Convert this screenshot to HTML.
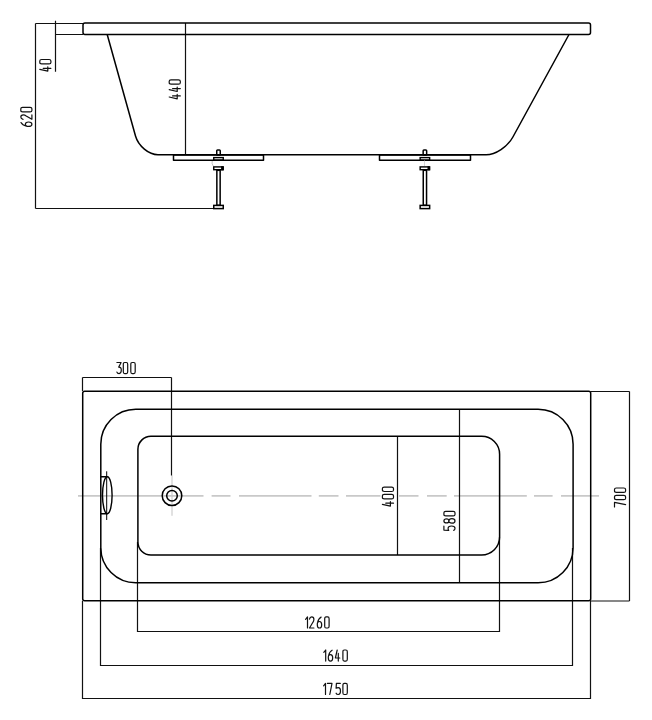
<!DOCTYPE html>
<html>
<head>
<meta charset="utf-8">
<style>
html,body{margin:0;padding:0;background:#fff;width:652px;height:720px;overflow:hidden;}
svg{display:block;}
</style>
</head>
<body>
<svg width="652" height="720" viewBox="0 0 652 720">
<rect x="0" y="0" width="652" height="720" fill="#fff"/>

<!-- ===== SIDE VIEW ===== -->
<g fill="none" stroke="#111" stroke-width="1.2">
  <!-- 620 dimension -->
  <path d="M35.5,23.5 H83 M35.5,23.5 V208.5 M35.5,208.5 H213.5"/>
  <!-- 40 dimension -->
  <path d="M55.5,20.7 V71.8 M55.5,34.5 H83"/>
  <!-- 440 dimension -->
  <path d="M185.5,23 V154.6"/>
</g>
<g fill="none" stroke="#000" stroke-width="1.5" stroke-linejoin="round">
  <!-- rim -->
  <rect x="83" y="23" width="507.5" height="11.4" rx="2"/>
  <!-- tub body -->
  <path d="M107.2,34.5 L135.5,136 C138.3,145.9 148.8,154.7 158,154.7 L486.1,154.7 C495.5,154.7 507.5,146.8 512.9,137 L569,34.5"/>
  <!-- plates -->
  <rect x="173.5" y="155" width="90" height="5.3"/>
  <rect x="379.5" y="155" width="91" height="5.3"/>
</g>
<!-- feet -->
<g fill="none" stroke="#000" stroke-width="1.5">
  <rect x="216.75" y="149.9" width="3.5" height="5.2" rx="0.8"/>
  <rect x="213.75" y="157.6" width="9.5" height="2.5" stroke-width="1.4"/>
  <rect x="213.75" y="166.9" width="9.5" height="2.8" stroke-width="1.4"/>
  <rect x="221.10" y="166.2" width="2.3" height="4.2" fill="#000" stroke="none"/>
  <rect x="216.85" y="170.3" width="3.3" height="35"/>
  <rect x="213.75" y="205.4" width="9.5" height="3.2"/>
  <path d="M212.20,161 Q211.50,164 213.30,166" stroke="#bbb" stroke-width="0.9"/>
</g>
<g fill="none" stroke="#000" stroke-width="1.5">
  <rect x="423.15" y="149.9" width="3.5" height="5.2" rx="0.8"/>
  <rect x="420.15" y="157.6" width="9.5" height="2.5" stroke-width="1.4"/>
  <rect x="420.15" y="166.9" width="9.5" height="2.8" stroke-width="1.4"/>
  <rect x="427.50" y="166.2" width="2.3" height="4.2" fill="#000" stroke="none"/>
  <rect x="423.25" y="170.3" width="3.3" height="35"/>
  <rect x="420.15" y="205.4" width="9.5" height="3.2"/>
  <path d="M424.50,160.5 V166" stroke="#ccc" stroke-width="0.8"/>
</g>


<!-- ===== TOP VIEW ===== -->
<!-- center line -->
<path d="M78,495.9 H203.5 M211.6,495.9 H230.5 M239,495.9 H311.5 M318.8,495.9 H338.5 M346,495.9 H380.5 M399,495.9 H418.5 M427,495.9 H446.7 M454,495.9 H526.8 M534,495.9 H552.6 M561,495.9 H599" fill="none" stroke="#c9c9c9" stroke-width="1.7"/>
<path d="M172,475.5 V515.8" fill="none" stroke="#c8c8c8" stroke-width="1.1"/>

<g fill="none" stroke="#111" stroke-width="1.2">
  <!-- 300 -->
  <path d="M82.5,377.5 H171.5 M82.5,377.5 V391 M171.5,377.5 V475.5"/>
  <!-- 400 / 580 -->
  <path d="M397.5,436.3 V555.1 M459.5,409.3 V582.7"/>
  <!-- 700 -->
  <path d="M590.5,391.5 H629.5 M590.5,601 H629.5 M629.5,391.5 V601"/>
  <!-- 1260 -->
  <path d="M137.5,542 V631.5 H499.5 V537"/>
  <!-- 1640 -->
  <path d="M100.5,548 V665.5 H572.5 V548"/>
  <!-- 1750 -->
  <path d="M82.5,600.8 V698.5 H590.5 V600.8"/>
</g>

<g fill="none" stroke="#000" stroke-width="1.5">
  <!-- outer -->
  <rect x="82.7" y="391.3" width="508" height="209.4" rx="2"/>
  <!-- rim -->
  <rect x="100.8" y="409.3" width="472.3" height="173.4" rx="35"/>
  <!-- basin -->
  <path d="M150.9,436.3 H481.6 A18,18 0 0 1 499.6,454.3 V537.1 A18,18 0 0 1 481.6,555.1 H150.9 A13,13 0 0 1 137.9,542.1 V449.3 A13,13 0 0 1 150.9,436.3 Z"/>
</g>
<!-- overflow -->
<g fill="none" stroke="#000" stroke-width="1.4">
  <ellipse cx="107.3" cy="495.2" rx="4.8" ry="18.5"/>
  <path d="M100.8,476.7 H107.3 M100.8,513.7 H107.3"/>
  <path d="M106.7,471.3 V520" stroke-width="1"/>
</g>
<!-- drain -->
<g fill="none" stroke="#000" stroke-width="1.5">
  <circle cx="172" cy="495.7" r="9.8"/>
  <circle cx="172" cy="495.7" r="5.3"/>
</g>

<!-- GLYPHS -->
<g fill="none" stroke="#111" stroke-width="1.2" stroke-linejoin="round" stroke-linecap="round">
<path transform="translate(116.9,362.5)" d="M0,0 H4.2 L1.8,4.6 Q4.4,4.4 4.4,7.6 Q4.4,11.1 2.2,11.1 Q0.5,11.1 0,9.6"/>
<path transform="translate(123.3,362.5)" d="M1.4,0 H3 Q4.4,0 4.4,1.8 V9.3 Q4.4,11.1 3,11.1 H1.4 Q0,11.1 0,9.3 V1.8 Q0,0 1.4,0 Z"/>
<path transform="translate(130.8,362.5)" d="M1.4,0 H3 Q4.4,0 4.4,1.8 V9.3 Q4.4,11.1 3,11.1 H1.4 Q0,11.1 0,9.3 V1.8 Q0,0 1.4,0 Z"/>
<path transform="translate(305.6,616.9)" d="M0,2.4 L1.9,0 V11.1"/>
<path transform="translate(309.5,616.9)" d="M0,2.2 Q0.4,0 2.2,0 Q4.4,0 4.4,2.6 Q4.4,4 3.4,5.4 L0,11.1 H4.4"/>
<path transform="translate(317.3,616.9)" d="M3.8,0.2 Q1.2,1.5 0.3,5.6 Q0,6.4 0,7.8 Q0,11.1 2.2,11.1 Q4.4,11.1 4.4,7.8 Q4.4,4.6 2.2,4.6 Q0.9,4.6 0.3,5.8"/>
<path transform="translate(324.7,616.9)" d="M1.4,0 H3 Q4.4,0 4.4,1.8 V9.3 Q4.4,11.1 3,11.1 H1.4 Q0,11.1 0,9.3 V1.8 Q0,0 1.4,0 Z"/>
<path transform="translate(323.8,650.0)" d="M0,2.4 L1.9,0 V11.1"/>
<path transform="translate(328.3,650.0)" d="M3.8,0.2 Q1.2,1.5 0.3,5.6 Q0,6.4 0,7.8 Q0,11.1 2.2,11.1 Q4.4,11.1 4.4,7.8 Q4.4,4.6 2.2,4.6 Q0.9,4.6 0.3,5.8"/>
<path transform="translate(335.4,650.0)" d="M1.8,0 L0,8 H4.4 M2.9,3.4 V11.1"/>
<path transform="translate(342.9,650.0)" d="M1.4,0 H3 Q4.4,0 4.4,1.8 V9.3 Q4.4,11.1 3,11.1 H1.4 Q0,11.1 0,9.3 V1.8 Q0,0 1.4,0 Z"/>
<path transform="translate(323.6,683.4)" d="M0,2.4 L1.9,0 V11.1"/>
<path transform="translate(327.4,683.4)" d="M0,0 H4.6 L2.4,11.1"/>
<path transform="translate(336.1,683.4)" d="M4.2,0 H0.3 L0,4.8 Q0.8,4.2 2.2,4.2 Q4.4,4.2 4.4,7.6 Q4.4,11.1 2.2,11.1 Q0.5,11.1 0,9.8"/>
<path transform="translate(342.9,683.4)" d="M1.4,0 H3 Q4.4,0 4.4,1.8 V9.3 Q4.4,11.1 3,11.1 H1.4 Q0,11.1 0,9.3 V1.8 Q0,0 1.4,0 Z"/>
<path transform="translate(20.8,126.40) rotate(-90)" d="M3.8,0.2 Q1.2,1.5 0.3,5.6 Q0,6.4 0,7.8 Q0,11.1 2.2,11.1 Q4.4,11.1 4.4,7.8 Q4.4,4.6 2.2,4.6 Q0.9,4.6 0.3,5.8"/>
<path transform="translate(20.8,119.30) rotate(-90)" d="M0,2.2 Q0.4,0 2.2,0 Q4.4,0 4.4,2.6 Q4.4,4 3.4,5.4 L0,11.1 H4.4"/>
<path transform="translate(20.8,111.80) rotate(-90)" d="M1.4,0 H3 Q4.4,0 4.4,1.8 V9.3 Q4.4,11.1 3,11.1 H1.4 Q0,11.1 0,9.3 V1.8 Q0,0 1.4,0 Z"/>
<path transform="translate(39.8,71.20) rotate(-90)" d="M1.8,0 L0,8 H4.4 M2.9,3.4 V11.1"/>
<path transform="translate(39.8,63.90) rotate(-90)" d="M1.4,0 H3 Q4.4,0 4.4,1.8 V9.3 Q4.4,11.1 3,11.1 H1.4 Q0,11.1 0,9.3 V1.8 Q0,0 1.4,0 Z"/>
<path transform="translate(169.2,98.80) rotate(-90)" d="M1.8,0 L0,8 H4.4 M2.9,3.4 V11.1"/>
<path transform="translate(169.2,91.50) rotate(-90)" d="M1.8,0 L0,8 H4.4 M2.9,3.4 V11.1"/>
<path transform="translate(169.2,84.20) rotate(-90)" d="M1.4,0 H3 Q4.4,0 4.4,1.8 V9.3 Q4.4,11.1 3,11.1 H1.4 Q0,11.1 0,9.3 V1.8 Q0,0 1.4,0 Z"/>
<path transform="translate(382.4,506.10) rotate(-90)" d="M1.8,0 L0,8 H4.4 M2.9,3.4 V11.1"/>
<path transform="translate(382.4,498.80) rotate(-90)" d="M1.4,0 H3 Q4.4,0 4.4,1.8 V9.3 Q4.4,11.1 3,11.1 H1.4 Q0,11.1 0,9.3 V1.8 Q0,0 1.4,0 Z"/>
<path transform="translate(382.4,491.50) rotate(-90)" d="M1.4,0 H3 Q4.4,0 4.4,1.8 V9.3 Q4.4,11.1 3,11.1 H1.4 Q0,11.1 0,9.3 V1.8 Q0,0 1.4,0 Z"/>
<path transform="translate(443.9,530.40) rotate(-90)" d="M4.2,0 H0.3 L0,4.8 Q0.8,4.2 2.2,4.2 Q4.4,4.2 4.4,7.6 Q4.4,11.1 2.2,11.1 Q0.5,11.1 0,9.8"/>
<path transform="translate(443.9,523.10) rotate(-90)" d="M2.2,0 Q0.2,0 0.2,2.6 Q0.2,5 2.2,5 Q4.2,5 4.2,2.6 Q4.2,0 2.2,0 Z M2.2,5 Q0,5 0,8 Q0,11.1 2.2,11.1 Q4.4,11.1 4.4,8 Q4.4,5 2.2,5 Z"/>
<path transform="translate(443.9,515.80) rotate(-90)" d="M1.4,0 H3 Q4.4,0 4.4,1.8 V9.3 Q4.4,11.1 3,11.1 H1.4 Q0,11.1 0,9.3 V1.8 Q0,0 1.4,0 Z"/>
<path transform="translate(614.5,507.00) rotate(-90)" d="M0,0 H4.6 L2.4,11.1"/>
<path transform="translate(614.5,499.70) rotate(-90)" d="M1.4,0 H3 Q4.4,0 4.4,1.8 V9.3 Q4.4,11.1 3,11.1 H1.4 Q0,11.1 0,9.3 V1.8 Q0,0 1.4,0 Z"/>
<path transform="translate(614.5,492.40) rotate(-90)" d="M1.4,0 H3 Q4.4,0 4.4,1.8 V9.3 Q4.4,11.1 3,11.1 H1.4 Q0,11.1 0,9.3 V1.8 Q0,0 1.4,0 Z"/>
</g>
<!-- /GLYPHS -->
</svg>
</body>
</html>
